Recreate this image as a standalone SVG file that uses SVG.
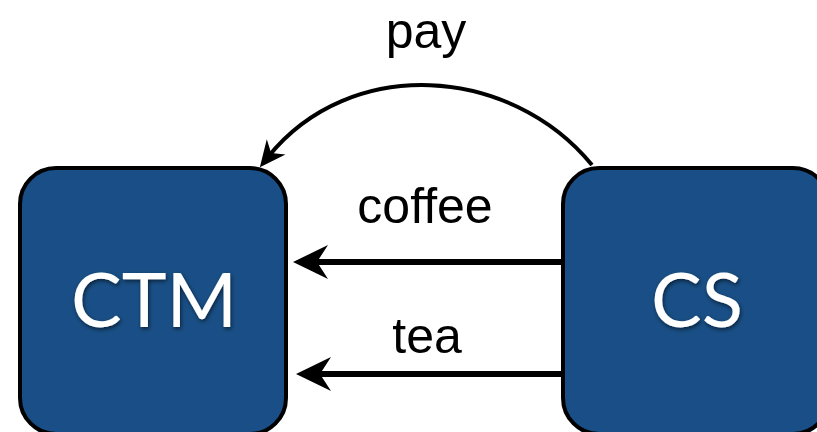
<svg xmlns="http://www.w3.org/2000/svg" width="817" height="432" viewBox="0 0 817 432">
  <style>
    .node { fill: #194f86; stroke: #000; stroke-width: 4; }
    .nlabel { font-family: "Lato", "Open Sans", sans-serif; font-size: 76px; fill: #fff; text-anchor: middle; filter: url(#shadow); }
    .elabel { font-family: "Liberation Sans", Arial, sans-serif; font-size: 50px; fill: #000; text-anchor: middle; }
    .edge { fill: none; stroke: #000; }
  </style>
  <defs>
    <filter id="shadow" x="-20%" y="-20%" width="140%" height="140%">
      <feDropShadow dx="1" dy="2" stdDeviation="2" flood-color="#000" flood-opacity="0.6"/>
    </filter>
    <marker id="headBig" markerUnits="userSpaceOnUse" viewBox="-36 -18 37 36" markerWidth="37" markerHeight="36" refX="-20" refY="0" orient="auto">
      <path d="M0,0 L-35,-17 L-24,0 L-35,17 Z" fill="#000"/>
    </marker>
    <marker id="headSmall" markerUnits="userSpaceOnUse" viewBox="-28 -13 29 26" markerWidth="29" markerHeight="26" refX="-13" refY="0" orient="auto">
      <path d="M0,0 L-26,-12 L-18,0 L-26,12 Z" fill="#000"/>
    </marker>
  </defs>

  <g id="connectors">
    <path id="edge-pay" class="edge" stroke-width="4" d="M592,165 C510,65 350,55 268,157" marker-end="url(#headSmall)"/>
    <line id="edge-coffee" class="edge" stroke-width="6" x1="563" y1="262" x2="313" y2="262" marker-end="url(#headBig)"/>
    <line id="edge-tea" class="edge" stroke-width="6" x1="563" y1="374" x2="316" y2="374" marker-end="url(#headBig)"/>
    <text class="elabel" x="426" y="48">pay</text>
    <text class="elabel" x="425" y="223">coffee</text>
    <text class="elabel" x="427" y="353">tea</text>
  </g>

  <g id="node-CTM">
    <rect class="node" x="20" y="168" width="266" height="266" rx="36" ry="36"/>
    <text class="nlabel" x="154" y="327">CTM</text>
  </g>

  <g id="node-CS">
    <rect class="node" x="563" y="168" width="266" height="266" rx="36" ry="36"/>
    <text class="nlabel" x="697" y="327">CS</text>
  </g>
</svg>
